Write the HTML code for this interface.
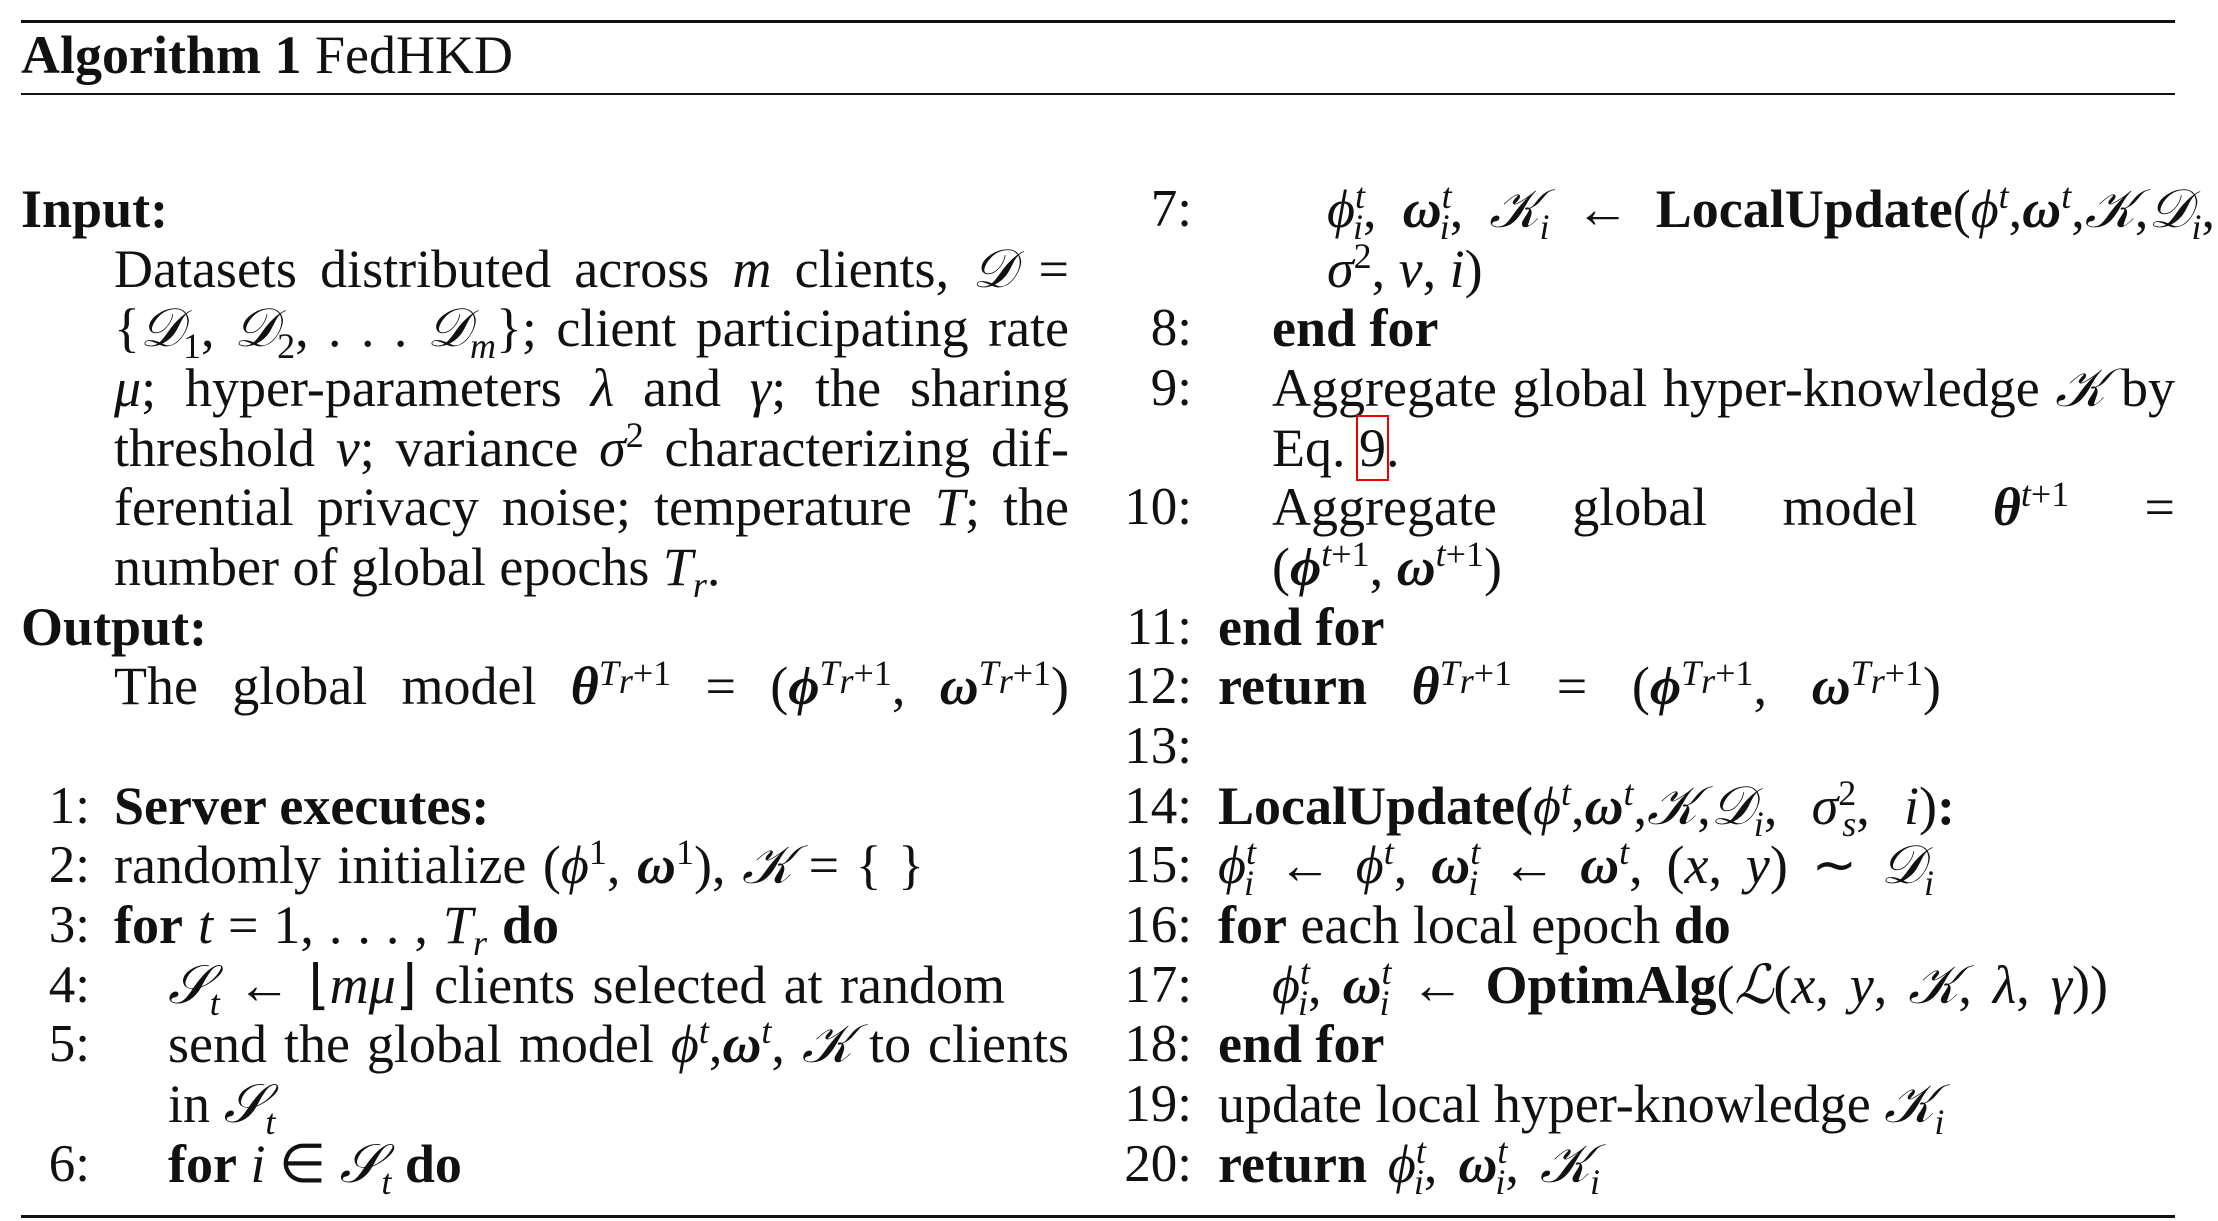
<!DOCTYPE html>
<html><head><meta charset="utf-8"><style>
html,body{margin:0;padding:0;background:#fff}
body{width:2218px;height:1221px;position:relative;overflow:hidden;font-family:"Liberation Serif",serif;color:#111}
.rule{position:absolute;left:21px;width:2154px;background:#111}
.l{position:absolute;font-size:54px;line-height:60px;height:60px;white-space:nowrap}
.j{text-align:justify;text-align-last:justify;white-space:normal;overflow:visible}
.n{position:absolute;font-size:53px;line-height:60px;text-align:right;width:100px}
i{font-style:italic}
b{font-weight:bold}
sup,sub{font-size:36px;line-height:0}
.bx{outline:2px solid #e00;outline-offset:1px}
</style></head><body>
<div class="rule" style="top:20px;height:3px"></div>
<div class="l" style="left:21px;top:25px;font-size:54px"><b>Algorithm 1</b> FedHKD</div>
<div class="rule" style="top:93px;height:2px"></div>
<div class="rule" style="top:1215px;height:3px"></div>

<div>
<div class="l" style="left:21px;top:179px"><b>Input:</b></div>
<div class="l j" style="left:114px;width:955px;top:239px">Datasets distributed across <i>m</i> clients, <i>𝒟</i> =</div>
<div class="l j" style="left:114px;width:955px;top:298px">{<i>𝒟</i><sub>1</sub>, <i>𝒟</i><sub>2</sub>, . . . <i>𝒟</i><sub><i>m</i></sub>}; client participating rate</div>
<div class="l j" style="left:114px;width:955px;top:358px"><i>μ</i>; hyper-parameters <i>λ</i> and <i>γ</i>; the sharing</div>
<div class="l j" style="left:114px;width:955px;top:418px">threshold <i>ν</i>; variance <i>σ</i><sup>2</sup> characterizing dif-</div>
<div class="l j" style="left:114px;width:955px;top:477px">ferential privacy noise; temperature <i>T</i>; the</div>
<div class="l" style="left:114px;top:537px">number of global epochs <i>T</i><sub><i>r</i></sub>.</div>
<div class="l" style="left:21px;top:597px"><b>Output:</b></div>
<div class="l j" style="left:114px;width:955px;top:656px">The&nbsp;global&nbsp;model&nbsp;<b><i>θ</i></b><sup><i>T<sub>r</sub></i>+1</sup> = (<b><i>ϕ</i></b><sup><i>T<sub>r</sub></i>+1</sup>, <b><i>ω</i></b><sup><i>T<sub>r</sub></i>+1</sup>)</div>

<div class="n" style="left:-10px;top:776px">1:</div><div class="l" style="left:114px;top:776px"><b>Server executes:</b></div>
<div class="n" style="left:-10px;top:835px">2:</div><div class="l j" style="left:114px;width:810px;top:835px">randomly&nbsp;initialize&nbsp;(<i>ϕ</i><sup>1</sup>, <b><i>ω</i></b><sup>1</sup>), <i>𝒦</i> = { }</div>
<div class="n" style="left:-10px;top:895px">3:</div><div class="l j" style="left:114px;width:445px;top:895px"><b>for</b> <i>t</i> = 1, . . . , <i>T</i><sub><i>r</i></sub> <b>do</b></div>
<div class="n" style="left:-10px;top:955px">4:</div><div class="l j" style="left:168px;width:837px;top:955px"><i>𝒮</i><sub><i>t</i></sub> ← ⌊<i>mμ</i>⌋ clients&nbsp;selected&nbsp;at&nbsp;random</div>
<div class="n" style="left:-10px;top:1014px">5:</div><div class="l j" style="left:168px;width:901px;top:1014px">send the global model <i>ϕ</i><sup><i>t</i></sup>,<b><i>ω</i></b><sup><i>t</i></sup>, <i>𝒦</i> to clients</div>
<div class="l" style="left:168px;top:1074px">in <i>𝒮</i><sub><i>t</i></sub></div>
<div class="n" style="left:-10px;top:1134px">6:</div><div class="l" style="left:168px;top:1134px"><b>for</b> <i>i</i> ∈ <i>𝒮</i><sub><i>t</i></sub> <b>do</b></div>
</div>

<div>
<div class="n" style="left:1092px;top:179px">7:</div><div class="l j" style="left:1327px;width:888px;top:179px"><i>ϕ</i><sup><i>t</i></sup><sub style="margin-left:-12px"><i>i</i></sub>, <b><i>ω</i></b><sup><i>t</i></sup><sub style="margin-left:-12px"><i>i</i></sub>, <i>𝒦</i><sub><i>i</i></sub> ← <b>LocalUpdate</b>(<i>ϕ</i><sup><i>t</i></sup>,<b><i>ω</i></b><sup><i>t</i></sup>,<i>𝒦</i>,<i>𝒟</i><sub><i>i</i></sub>,</div>
<div class="l" style="left:1327px;top:239px"><i>σ</i><sup>2</sup>, <i>ν</i>, <i>i</i>)</div>
<div class="n" style="left:1092px;top:298px">8:</div><div class="l" style="left:1272px;top:298px"><b>end for</b></div>
<div class="n" style="left:1092px;top:358px">9:</div><div class="l j" style="left:1272px;width:903px;top:358px">Aggregate global hyper-knowledge <i>𝒦</i> by</div>
<div class="l" style="left:1272px;top:418px">Eq. <span class="bx">9</span>.</div>
<div class="n" style="left:1092px;top:477px">10:</div><div class="l j" style="left:1272px;width:903px;top:477px">Aggregate global model <b><i>θ</i></b><sup><i>t</i>+1</sup> =</div>
<div class="l" style="left:1272px;top:537px">(<b><i>ϕ</i></b><sup><i>t</i>+1</sup>, <b><i>ω</i></b><sup><i>t</i>+1</sup>)</div>
<div class="n" style="left:1092px;top:597px">11:</div><div class="l" style="left:1218px;top:597px"><b>end for</b></div>
<div class="n" style="left:1092px;top:656px">12:</div><div class="l j" style="left:1218px;width:723px;top:656px"><b>return</b> <b><i>θ</i></b><sup><i>T<sub>r</sub></i>+1</sup> = (<b><i>ϕ</i></b><sup><i>T<sub>r</sub></i>+1</sup>, <b><i>ω</i></b><sup><i>T<sub>r</sub></i>+1</sup>)</div>
<div class="n" style="left:1092px;top:716px">13:</div>
<div class="n" style="left:1092px;top:776px">14:</div><div class="l j" style="left:1218px;width:737px;top:776px"><b>LocalUpdate(</b><i>ϕ</i><sup><i>t</i></sup>,<b><i>ω</i></b><sup><i>t</i></sup>,<i>𝒦</i>,<i>𝒟</i><sub><i>i</i></sub>, <i>σ</i><sup>2</sup><sub style="margin-left:-14px"><i>s</i></sub>, <i>i</i>)<b>:</b></div>
<div class="n" style="left:1092px;top:835px">15:</div><div class="l j" style="left:1218px;width:716px;top:835px"><i>ϕ</i><sup><i>t</i></sup><sub style="margin-left:-12px"><i>i</i></sub> ← <i>ϕ</i><sup><i>t</i></sup>, <b><i>ω</i></b><sup><i>t</i></sup><sub style="margin-left:-12px"><i>i</i></sub> ← <b><i>ω</i></b><sup><i>t</i></sup>, (<i>x</i>, <i>y</i>) ∼ <i>𝒟</i><sub><i>i</i></sub></div>
<div class="n" style="left:1092px;top:895px">16:</div><div class="l" style="left:1218px;top:895px"><b>for</b> each local epoch <b>do</b></div>
<div class="n" style="left:1092px;top:955px">17:</div><div class="l j" style="left:1272px;width:836px;top:955px"><i>ϕ</i><sup><i>t</i></sup><sub style="margin-left:-12px"><i>i</i></sub>, <b><i>ω</i></b><sup><i>t</i></sup><sub style="margin-left:-12px"><i>i</i></sub> ← <b>OptimAlg</b>(<i>ℒ</i>(<i>x</i>, <i>y</i>, <i>𝒦</i>, <i>λ</i>, <i>γ</i>))</div>
<div class="n" style="left:1092px;top:1014px">18:</div><div class="l" style="left:1218px;top:1014px"><b>end for</b></div>
<div class="n" style="left:1092px;top:1074px">19:</div><div class="l" style="left:1218px;top:1074px">update local hyper-knowledge <i>𝒦</i><sub><i>i</i></sub></div>
<div class="n" style="left:1092px;top:1134px">20:</div><div class="l j" style="left:1218px;width:382px;top:1134px"><b>return</b> <i>ϕ</i><sup><i>t</i></sup><sub style="margin-left:-12px"><i>i</i></sub>, <b><i>ω</i></b><sup><i>t</i></sup><sub style="margin-left:-12px"><i>i</i></sub>, <i>𝒦</i><sub><i>i</i></sub></div>
</div>
</body></html>
